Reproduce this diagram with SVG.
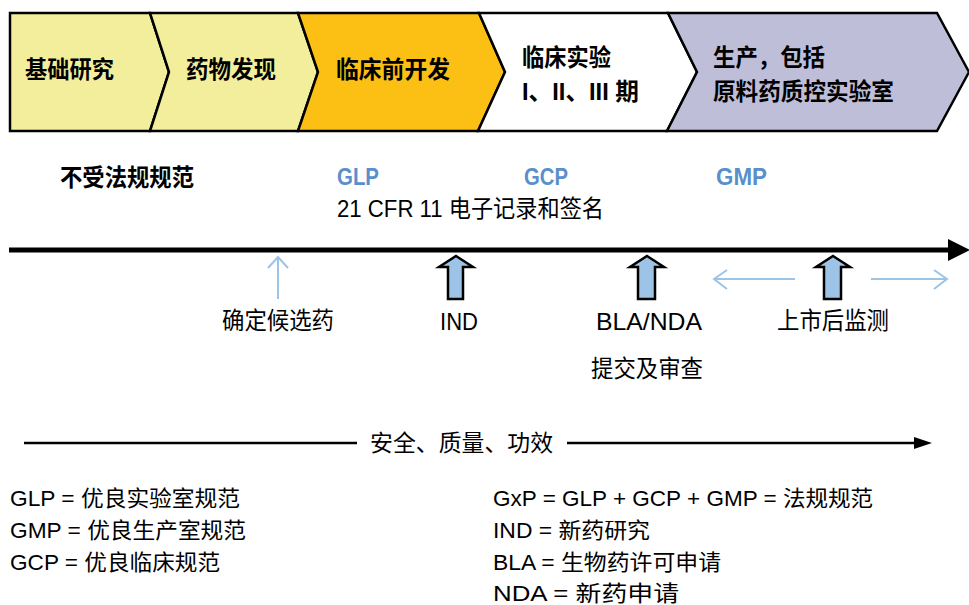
<svg xmlns="http://www.w3.org/2000/svg" width="969" height="605" viewBox="0 0 969 605">
<style>
text { font-family: "Liberation Sans", "Noto Sans CJK SC", sans-serif; fill: #000; }
.b { font-weight: bold; font-size: 24px; }
.r { font-size: 24px; }
.l { font-size: 22px; }
.blue { fill: #5A8FCB; }
.chev { stroke: #000; stroke-width: 2.5; stroke-linejoin: miter; }
.blk { fill: #9DC3E6; stroke: #000; stroke-width: 2.5; stroke-linejoin: miter; }
.thin { fill: none; stroke: #9DC3E6; stroke-width: 2; }
</style>
<defs>
<marker id="ah" markerWidth="10" markerHeight="10" refX="0" refY="0" viewBox="0 -5 10 10" orient="auto" markerUnits="userSpaceOnUse"/>
</defs>
<rect width="969" height="605" fill="#fff"/>

<g id="stage-basic">
<polygon class="chev" fill="#F3EE9B" points="10,13 150,13 169,72 150,131 10,131"/>
<text class="b" x="25" y="78" textLength="89" lengthAdjust="spacingAndGlyphs">基础研究</text>
</g>
<g id="stage-discovery">
<polygon class="chev" fill="#F3EE9B" points="150,13 298,13 318,72 298,131 150,131 169,72"/>
<text class="b" x="186" y="78" textLength="90" lengthAdjust="spacingAndGlyphs">药物发现</text>
</g>
<g id="stage-preclinical">
<polygon class="chev" fill="#FCBF14" points="298,13 479,13 505,72 478,131 298,131 318,72"/>
<text class="b" x="336" y="78" textLength="114" lengthAdjust="spacingAndGlyphs">临床前开发</text>
</g>
<g id="stage-clinical">
<polygon class="chev" fill="#FFFFFF" points="479,13 668,13 697,72 667,131 478,131 505,72"/>
<text class="b" x="522" y="66" textLength="89" lengthAdjust="spacingAndGlyphs">临床实验</text>
<text class="b" x="522" y="100" textLength="117" lengthAdjust="spacingAndGlyphs">I、II、III 期</text>
</g>
<g id="stage-manufacturing">
<polygon class="chev" fill="#BEBED8" points="668,13 937,13 969,72 937,131 667,131 697,72"/>
<text class="b" x="713" y="66" textLength="112" lengthAdjust="spacingAndGlyphs">生产，包括</text>
<text class="b" x="713" y="100" textLength="181" lengthAdjust="spacingAndGlyphs">原料药质控实验室</text>
</g>

<g id="regulations">
<text class="b" x="60" y="186" textLength="134" lengthAdjust="spacingAndGlyphs">不受法规规范</text>
<text class="b blue" x="337" y="185" textLength="42" lengthAdjust="spacingAndGlyphs">GLP</text>
<text class="b blue" x="524" y="185" textLength="44" lengthAdjust="spacingAndGlyphs">GCP</text>
<text class="b blue" x="716" y="185" textLength="51" lengthAdjust="spacingAndGlyphs">GMP</text>
<text class="r" x="337" y="217" textLength="267" lengthAdjust="spacingAndGlyphs">21 CFR 11 电子记录和签名</text>
</g>

<g id="connectors">
<!-- main timeline -->
<line x1="9" y1="250" x2="950" y2="250" stroke="#000" stroke-width="5"/>
<polygon points="948,239 970,250 948,261" fill="#000"/>
<!-- candidate thin arrow -->
<line class="thin" x1="278" y1="299" x2="278" y2="258"/>
<polyline class="thin" points="268,268 278,257 288,268"/>
<!-- block arrows -->
<polygon class="blk" points="456,256 473,267 463,267 463,299 448,299 448,267 439,267"/>
<polygon class="blk" points="647,256 664,267 655,267 655,299 638,299 638,267 630,267"/>
<polygon class="blk" points="833,256 850,267 841,267 841,299 824,299 824,267 816,267"/>
<!-- post-market horizontal arrows -->
<line class="thin" x1="795" y1="279" x2="714" y2="279"/>
<polyline class="thin" points="727,270 714,279 727,289"/>
<line class="thin" x1="871" y1="279" x2="947" y2="279"/>
<polyline class="thin" points="934,270 947,279 934,289"/>
<!-- bottom arrow -->
<line x1="24" y1="443" x2="357" y2="443" stroke="#000" stroke-width="2.5"/>
<line x1="567" y1="443" x2="916" y2="443" stroke="#000" stroke-width="2.5"/>
<polygon points="914,437 932,443 914,449" fill="#000"/>
</g>

<g id="milestone-candidate">
<text class="r" x="222" y="329" textLength="112" lengthAdjust="spacingAndGlyphs">确定候选药</text>
</g>
<g id="milestone-ind">
<text class="r" x="440" y="330" textLength="38" lengthAdjust="spacingAndGlyphs">IND</text>
</g>
<g id="milestone-bla">
<text class="r" x="596" y="330" textLength="106" lengthAdjust="spacingAndGlyphs">BLA/NDA</text>
<text class="r" x="591" y="377" textLength="112" lengthAdjust="spacingAndGlyphs">提交及审查</text>
</g>
<g id="milestone-postmarket">
<text class="r" x="777" y="329" textLength="112" lengthAdjust="spacingAndGlyphs">上市后监测</text>
</g>

<g id="sqe-label">
<text x="370" y="451" font-size="23" textLength="183" lengthAdjust="spacingAndGlyphs">安全、质量、功效</text>
</g>

<g id="legend-left">
<text class="l" x="10" y="506" textLength="230" lengthAdjust="spacingAndGlyphs">GLP = 优良实验室规范</text>
<text class="l" x="10" y="538" textLength="236" lengthAdjust="spacingAndGlyphs">GMP = 优良生产室规范</text>
<text class="l" x="10" y="570" textLength="210" lengthAdjust="spacingAndGlyphs">GCP = 优良临床规范</text>
</g>
<g id="legend-right">
<text class="l" x="493" y="506" textLength="380" lengthAdjust="spacingAndGlyphs">GxP = GLP + GCP + GMP = 法规规范</text>
<text class="l" x="493" y="538" textLength="157" lengthAdjust="spacingAndGlyphs">IND = 新药研究</text>
<text class="l" x="493" y="570" textLength="228" lengthAdjust="spacingAndGlyphs">BLA = 生物药许可申请</text>
<text class="l" x="493" y="601" textLength="186" lengthAdjust="spacingAndGlyphs">NDA = 新药申请</text>
</g>
</svg>
